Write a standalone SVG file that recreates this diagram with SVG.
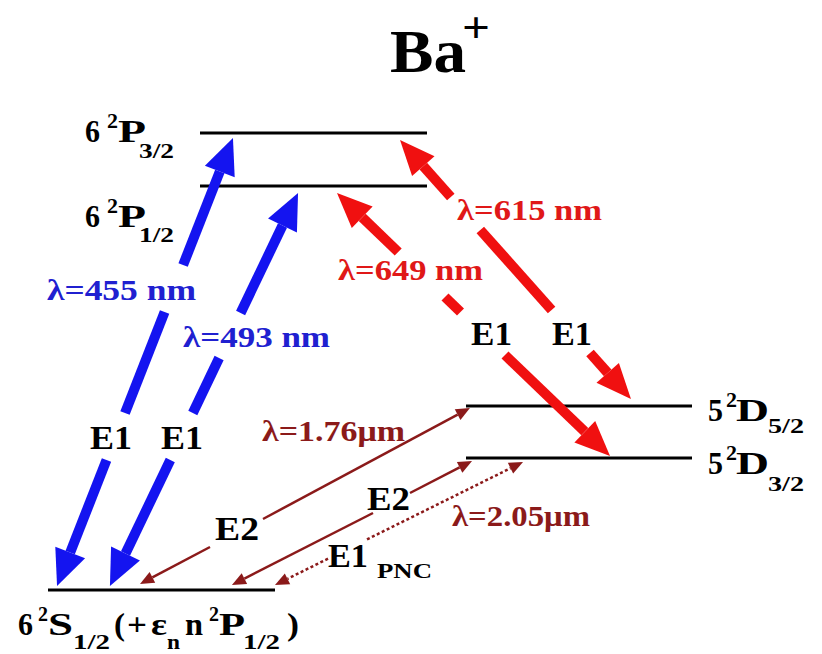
<svg xmlns="http://www.w3.org/2000/svg" width="822" height="654" viewBox="0 0 822 654">
<style>
text{font-family:"Liberation Serif","Times New Roman",serif;font-weight:bold;}
.k{fill:#000;}
.main{font-size:32px;}
.sup{font-size:20px;}
.sub{font-size:22px;}
.lbl{font-size:29px;}
.el{font-size:33px;}
.blueT{fill:#2020d0;}
.redT{fill:#e01818;}
.marT{fill:#8b1a1a;}
.lev{stroke:#000;stroke-width:3;}
.blue{stroke:#1414f0;stroke-width:10;fill:none;}
.red{stroke:#f01010;stroke-width:10;fill:none;}
.mar{stroke:#8b1a1a;stroke-width:2.5;fill:none;}
.dot{stroke:#8b1a1a;stroke-width:2.5;fill:none;stroke-dasharray:3 2.5;}
</style>
<defs>
<marker id="hb" markerUnits="userSpaceOnUse" markerWidth="40" markerHeight="40" refX="0" refY="0" orient="auto" overflow="visible"><path d="M0,-16 L36,0 L0,16 Z" fill="#1414f0"/></marker>
<marker id="hr" markerUnits="userSpaceOnUse" markerWidth="40" markerHeight="40" refX="0" refY="0" orient="auto" overflow="visible"><path d="M0,-15 L35,0 L0,15 Z" fill="#f01010"/></marker>
<marker id="hm" markerUnits="userSpaceOnUse" markerWidth="20" markerHeight="20" refX="0" refY="0" orient="auto" overflow="visible"><path d="M0,-6 L14,0 L0,6 Z" fill="#8b1a1a"/></marker>
</defs>
<rect width="822" height="654" fill="#fff"/>

<g id="title">
<text x="390" y="72" font-size="62" textLength="76" lengthAdjust="spacingAndGlyphs">Ba</text>
<text x="462" y="42" font-size="44" textLength="28" lengthAdjust="spacingAndGlyphs">+</text>
</g>

<g id="P32">
<line class="lev" x1="200" y1="133" x2="427" y2="133"/>
<text class="main" x="85" y="142" textLength="15" lengthAdjust="spacingAndGlyphs">6</text>
<text class="sup" x="107" y="128" textLength="11" lengthAdjust="spacingAndGlyphs">2</text>
<text class="main" x="118" y="142" textLength="28" lengthAdjust="spacingAndGlyphs">P</text>
<text class="sub" x="139" y="158" textLength="35" lengthAdjust="spacingAndGlyphs">3/2</text>
</g>

<g id="P12">
<line class="lev" x1="200" y1="186" x2="427" y2="186"/>
<text class="main" x="85" y="227" textLength="15" lengthAdjust="spacingAndGlyphs">6</text>
<text class="sup" x="107" y="213" textLength="11" lengthAdjust="spacingAndGlyphs">2</text>
<text class="main" x="118" y="227" textLength="28" lengthAdjust="spacingAndGlyphs">P</text>
<text class="sub" x="139" y="242" textLength="35" lengthAdjust="spacingAndGlyphs">1/2</text>
</g>

<g id="D52">
<line class="lev" x1="466" y1="406" x2="692" y2="406"/>
<text class="main" x="708" y="421" textLength="15" lengthAdjust="spacingAndGlyphs">5</text>
<text class="sup" x="726" y="407" textLength="11" lengthAdjust="spacingAndGlyphs">2</text>
<text class="main" x="736" y="421" textLength="33" lengthAdjust="spacingAndGlyphs">D</text>
<text class="sub" x="768" y="433" textLength="36" lengthAdjust="spacingAndGlyphs">5/2</text>
</g>

<g id="D32">
<line class="lev" x1="466" y1="458" x2="692" y2="458"/>
<text class="main" x="708" y="474" textLength="15" lengthAdjust="spacingAndGlyphs">5</text>
<text class="sup" x="726" y="460" textLength="11" lengthAdjust="spacingAndGlyphs">2</text>
<text class="main" x="736" y="474" textLength="33" lengthAdjust="spacingAndGlyphs">D</text>
<text class="sub" x="768" y="491" textLength="36" lengthAdjust="spacingAndGlyphs">3/2</text>
</g>

<g id="S12">
<line class="lev" x1="48" y1="590" x2="275" y2="590"/>
<text class="main" x="18" y="635" textLength="15" lengthAdjust="spacingAndGlyphs">6</text>
<text class="sup" x="38" y="621" textLength="10" lengthAdjust="spacingAndGlyphs">2</text>
<text class="main" x="48" y="635" textLength="25" lengthAdjust="spacingAndGlyphs">S</text>
<text class="sub" x="73" y="649" textLength="37" lengthAdjust="spacingAndGlyphs">1/2</text>
<text class="main" x="114" y="635" textLength="11" lengthAdjust="spacingAndGlyphs">(</text>
<text class="main" x="127" y="635" textLength="20" lengthAdjust="spacingAndGlyphs">+</text>
<text class="main" x="151" y="635" textLength="16" lengthAdjust="spacingAndGlyphs">ε</text>
<text class="sub" x="167" y="649" textLength="13" lengthAdjust="spacingAndGlyphs">n</text>
<text class="main" x="185" y="635" textLength="18" lengthAdjust="spacingAndGlyphs">n</text>
<text class="sup" x="209" y="621" textLength="10" lengthAdjust="spacingAndGlyphs">2</text>
<text class="main" x="219" y="635" textLength="26" lengthAdjust="spacingAndGlyphs">P</text>
<text class="sub" x="243" y="649" textLength="37" lengthAdjust="spacingAndGlyphs">1/2</text>
<text class="main" x="287" y="635" textLength="12" lengthAdjust="spacingAndGlyphs">)</text>
</g>

<g id="connectors">
<!-- blue 455 nm -->
<line class="blue" x1="183.1" y1="265" x2="219.8" y2="171.5" marker-end="url(#hb)"/>
<line class="blue" x1="164.6" y1="312" x2="125" y2="413"/>
<line class="blue" x1="106.5" y1="460" x2="70.2" y2="552.5" marker-end="url(#hb)"/>
<!-- blue 493 nm -->
<line class="blue" x1="240.6" y1="313" x2="282.5" y2="225.5" marker-end="url(#hb)"/>
<line class="blue" x1="219.1" y1="358" x2="192.8" y2="413"/>
<line class="blue" x1="170.3" y1="460" x2="125.5" y2="553.5" marker-end="url(#hb)"/>
<!-- red 649 nm -->
<line class="red" x1="398.2" y1="252" x2="362.2" y2="217.3" marker-end="url(#hr)"/>
<line class="red" x1="445" y1="297" x2="460.5" y2="312"/>
<line class="red" x1="505" y1="355" x2="584.8" y2="431.7" marker-end="url(#hr)"/>
<!-- red 615 nm -->
<line class="red" x1="450.8" y1="197" x2="423.3" y2="166.1" marker-end="url(#hr)"/>
<line class="red" x1="480.3" y1="230" x2="551.6" y2="310"/>
<line class="red" x1="590" y1="353" x2="607.7" y2="372.9" marker-end="url(#hr)"/>
<!-- maroon 1.76 um -->
<line class="mar" x1="263" y1="519" x2="457.6" y2="414.6" marker-end="url(#hm)"/>
<line class="mar" x1="210" y1="547" x2="152.4" y2="577.4" marker-end="url(#hm)"/>
<!-- maroon 2.05 um E2 -->
<line class="mar" x1="410" y1="493" x2="459.6" y2="467.4" marker-end="url(#hm)"/>
<line class="mar" x1="373" y1="513" x2="244.4" y2="578.6" marker-end="url(#hm)"/>
<!-- dotted E1 PNC -->
<line class="dot" x1="367" y1="539.4" x2="510.5" y2="468.2" marker-end="url(#hm)"/>
<line class="dot" x1="328" y1="558.7" x2="287.5" y2="578.8" marker-end="url(#hm)"/>
</g>

<g id="labels">
<text class="lbl blueT" x="47" y="300" textLength="149" lengthAdjust="spacingAndGlyphs">λ=455 nm</text>
<text class="lbl blueT" x="183" y="347" textLength="147" lengthAdjust="spacingAndGlyphs">λ=493 nm</text>
<text class="lbl redT" x="338" y="280" textLength="145" lengthAdjust="spacingAndGlyphs">λ=649 nm</text>
<text class="lbl redT" x="457" y="220" textLength="145" lengthAdjust="spacingAndGlyphs">λ=615 nm</text>
<text class="lbl marT" x="262" y="441" textLength="143" lengthAdjust="spacingAndGlyphs">λ=1.76μm</text>
<text class="lbl marT" x="452" y="526" textLength="138" lengthAdjust="spacingAndGlyphs">λ=2.05μm</text>
<text class="el k" x="90" y="449" textLength="42" lengthAdjust="spacingAndGlyphs">E1</text>
<text class="el k" x="161" y="449" textLength="42" lengthAdjust="spacingAndGlyphs">E1</text>
<text class="el k" x="471" y="345" textLength="41" lengthAdjust="spacingAndGlyphs">E1</text>
<text class="el k" x="552" y="345" textLength="40" lengthAdjust="spacingAndGlyphs">E1</text>
<text class="el k" x="215" y="540" textLength="44" lengthAdjust="spacingAndGlyphs">E2</text>
<text class="el k" x="367" y="510" textLength="43" lengthAdjust="spacingAndGlyphs">E2</text>
<text class="el k" x="328" y="567" textLength="40" lengthAdjust="spacingAndGlyphs">E1</text>
<text class="k" x="377" y="578" font-size="21" textLength="55" lengthAdjust="spacingAndGlyphs">PNC</text>
</g>
</svg>
